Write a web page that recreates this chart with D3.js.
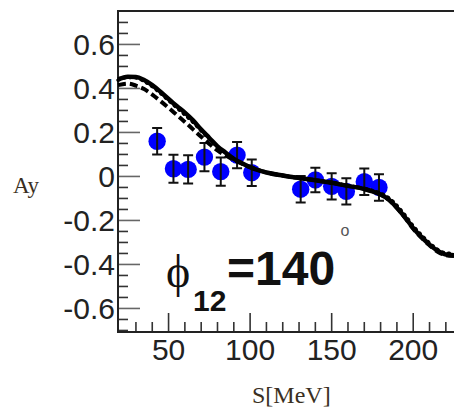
<!DOCTYPE html>
<html>
<head>
<meta charset="utf-8">
<script src="https://cdn.jsdelivr.net/npm/d3@7"></script>
<style>
  body { margin: 0; background: #fff; }
  svg { display: block; }
</style>
</head>
<body>
<div id="chart"></div>
<script>
//Data
var pointS = [43, 53, 62, 72, 82, 92, 101, 131, 140, 150, 159, 170, 179];
var pointAy = [0.16, 0.035, 0.032, 0.088, 0.022, 0.097, 0.017, -0.058, -0.016, -0.045, -0.068, -0.024, -0.05];
var pointErr = [0.06, 0.064, 0.064, 0.064, 0.064, 0.06, 0.06, 0.06, 0.056, 0.06, 0.06, 0.06, 0.06];

var curveS = [19, 25, 30, 35, 40, 45, 50, 55, 60, 65, 70, 75, 80, 85, 90, 95, 100, 110, 120, 130, 140, 150, 160, 170, 175, 180, 185, 190, 195, 200, 205, 210, 215, 220, 225];
var solidAy = [0.44, 0.453, 0.452, 0.438, 0.415, 0.385, 0.352, 0.32, 0.29, 0.255, 0.213, 0.175, 0.137, 0.108, 0.08, 0.06, 0.042, 0.018, 0.004, -0.007, -0.017, -0.029, -0.043, -0.057, -0.068, -0.082, -0.105, -0.142, -0.186, -0.235, -0.275, -0.31, -0.338, -0.355, -0.358];
var dashedAy = [0.415, 0.422, 0.413, 0.397, 0.372, 0.343, 0.312, 0.28, 0.248, 0.214, 0.18, 0.148, 0.118, 0.095, 0.075, 0.058, 0.043, 0.019, 0.004, -0.007, -0.017, -0.029, -0.043, -0.056, -0.068, -0.082, -0.106, -0.143, -0.188, -0.238, -0.278, -0.313, -0.342, -0.358, -0.362];
var dottedAy = [0.438, 0.45, 0.448, 0.432, 0.408, 0.378, 0.345, 0.312, 0.28, 0.246, 0.207, 0.17, 0.134, 0.106, 0.079, 0.059, 0.041, 0.018, 0.004, -0.007, -0.017, -0.029, -0.042, -0.055, -0.064, -0.076, -0.097, -0.132, -0.176, -0.225, -0.266, -0.302, -0.332, -0.348, -0.35];

var xTicksMajor = [50, 100, 150, 200];
var yTicksMajor = [-0.6, -0.4, -0.2, 0, 0.2, 0.4, 0.6];

//Sizes of the picture and of the frame
var width = 454;
var height = 414;
var frameLeft = 118, frameRight = 454, frameTop = 11, frameBottom = 332;

var svg = d3
  .select("#chart")
  .append("svg")
  .attr("width", width)
  .attr("height", height);

var x = d3.scaleLinear().domain([19, 225]).range([frameLeft, frameRight]);
var y = d3.scaleLinear().domain([-0.707, 0.752]).range([frameBottom, frameTop]);

//Ticks on the x axis, every 10, longer at the labels
var xMinor = d3.range(30, 225, 10);
svg.append("g")
  .selectAll("line")
  .data(xMinor)
  .enter()
  .append("line")
  .attr("x1", function(d) { return x(d); })
  .attr("x2", function(d) { return x(d); })
  .attr("y1", frameBottom)
  .attr("y2", function(d) { return d % 50 === 0 ? frameBottom - 19 : frameBottom - 10; })
  .attr("stroke", "#333")
  .attr("stroke-width", 1.6);

//Ticks on the y axis, every 0.05
var yMinor = d3.range(-14, 15).map(function(i) { return i * 0.05; });
function isMajorY(d) { return Math.abs(Math.round(d * 20)) % 4 === 0; }

svg.append("g")
  .selectAll("line")
  .data(yMinor)
  .enter()
  .append("line")
  .attr("x1", frameLeft)
  .attr("x2", function(d) { return isMajorY(d) ? frameLeft + 22 : frameLeft + 10; })
  .attr("y1", function(d) { return y(d); })
  .attr("y2", function(d) { return y(d); })
  .attr("stroke", function(d) { return isMajorY(d) ? "#666" : "#333"; })
  .attr("stroke-width", 1.6);

//Frame
svg.append("path")
  .attr("d", "M" + frameRight + "," + frameTop + "H" + frameLeft + "V" + frameBottom + "H" + frameRight)
  .attr("fill", "none")
  .attr("stroke", "#222")
  .attr("stroke-width", 2);

//Tick labels
svg.append("g")
  .selectAll("text")
  .data(xTicksMajor)
  .enter()
  .append("text")
  .attr("x", function(d) { return x(d); })
  .attr("y", 360)
  .attr("text-anchor", "middle")
  .attr("font-family", "Liberation Sans, Arial, sans-serif")
  .attr("font-size", 30)
  .attr("fill", "#222")
  .text(function(d) { return d; });

svg.append("g")
  .selectAll("text")
  .data(yTicksMajor)
  .enter()
  .append("text")
  .attr("x", 115)
  .attr("y", function(d) { return y(d) + 10.5; })
  .attr("text-anchor", "end")
  .attr("font-family", "Liberation Sans, Arial, sans-serif")
  .attr("font-size", 30)
  .attr("fill", "#222")
  .text(function(d) { return d === 0 ? "0" : d.toFixed(1); });

//Axis titles
svg.append("text")
  .attr("x", 13)
  .attr("y", 193)
  .attr("font-family", "Liberation Serif, Times New Roman, serif")
  .attr("font-size", 23)
  .attr("fill", "#3a2f22")
  .text("Ay");

svg.append("text")
  .attr("x", 252)
  .attr("y", 403)
  .attr("font-family", "Liberation Serif, Times New Roman, serif")
  .attr("font-size", 24)
  .attr("fill", "#3a2f22")
  .text("S[MeV]");

//Data points, then error bars
var pts = pointS.map(function(s, i) { return { s: s, ay: pointAy[i], e: pointErr[i] }; });

svg.append("g")
  .selectAll("circle")
  .data(pts)
  .enter()
  .append("circle")
  .attr("cx", function(d) { return x(d.s); })
  .attr("cy", function(d) { return y(d.ay); })
  .attr("r", 8.7)
  .attr("fill", "#0000ff");

var bars = svg.append("g")
  .attr("stroke", "#111")
  .attr("stroke-width", 2);

bars.selectAll(".bar")
  .data(pts)
  .enter()
  .append("path")
  .attr("class", "bar")
  .attr("fill", "none")
  .attr("d", function(d) {
  	var cx = x(d.s), y1 = y(d.ay + d.e), y2 = y(d.ay - d.e);
  	return "M" + cx + "," + y1 + "V" + y2 +
  	  "M" + (cx - 5) + "," + y1 + "H" + (cx + 5) +
  	  "M" + (cx - 5) + "," + y2 + "H" + (cx + 5);
  });

//Curves
var line = d3.line()
  .x(function(d) { return x(d[0]); })
  .y(function(d) { return y(d[1]); })
  .curve(d3.curveMonotoneX);

function pairs(vals) {
	return curveS.map(function(s, i) { return [s, vals[i]]; });
}

svg.append("path")
  .attr("d", line(pairs(dashedAy)))
  .attr("fill", "none")
  .attr("stroke", "#000")
  .attr("stroke-width", 4)
  .attr("stroke-dasharray", "8,4");

svg.append("path")
  .attr("d", line(pairs(dottedAy)))
  .attr("fill", "none")
  .attr("stroke", "#000")
  .attr("stroke-width", 3.5)
  .attr("stroke-linecap", "round")
  .attr("stroke-dasharray", "1,5");

svg.append("path")
  .attr("d", line(pairs(solidAy)))
  .attr("fill", "none")
  .attr("stroke", "#000")
  .attr("stroke-width", 4.5);

//Label inside the plot
svg.append("text")
  .attr("x", 166)
  .attr("y", 287)
  .attr("font-family", "Liberation Serif, Times New Roman, serif")
  .attr("font-size", 46)
  .attr("fill", "#111")
  .text("\u03d5");

svg.append("text")
  .attr("x", 193)
  .attr("y", 311)
  .attr("font-family", "Liberation Sans, Arial, sans-serif")
  .attr("font-weight", "bold")
  .attr("font-size", 30)
  .attr("fill", "#111")
  .text("12");

svg.append("text")
  .attr("x", 227)
  .attr("y", 285)
  .attr("font-family", "Liberation Sans, Arial, sans-serif")
  .attr("font-weight", "bold")
  .attr("font-size", 48)
  .attr("fill", "#111")
  .text("=140");

svg.append("text")
  .attr("x", 345)
  .attr("y", 236)
  .attr("text-anchor", "middle")
  .attr("font-family", "Liberation Sans, Arial, sans-serif")
  .attr("font-size", 16)
  .attr("fill", "#555")
  .text("o");
</script>
</body>
</html>
